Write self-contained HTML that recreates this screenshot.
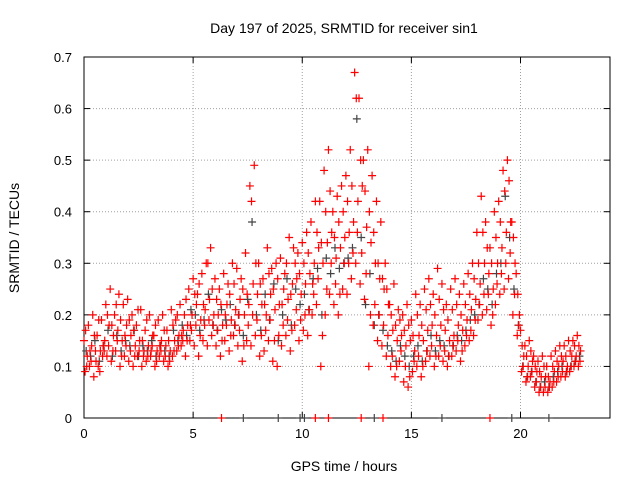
<!DOCTYPE html>
<html><head><meta charset="utf-8"><style>
body{margin:0;background:#fff}
svg{display:block;font-family:"Liberation Sans",sans-serif}
</style></head><body>
<svg id="chart" width="640" height="480" viewBox="0 0 640 480">
<rect width="640" height="480" fill="#fff"/>
<text x="344" y="33" font-size="14" text-anchor="middle">Day 197 of 2025, SRMTID for receiver sin1</text>
<text x="344" y="471" font-size="14" text-anchor="middle">GPS time / hours</text>
<text transform="translate(19,238) rotate(-90)" font-size="14" text-anchor="middle">SRMTID / TECUs</text>
<g id="grid"></g><g id="axes"></g><g id="marks"></g>
</svg>
<script>
const xTicks=[0,5,10,15,20];
const yTicks=[0,0.1,0.2,0.3,0.4,0.5,0.6,0.7];
const yTickLabels=["0","0.1","0.2","0.3","0.4","0.5","0.6","0.7"];
const timeStep=0.2;
const redA=[.15,.18,.2,.16,.19,.22,.25,.2,.24,.22,.23,.2,.18,.21,.17,.2,.16,.19,.2,.17,.21,.19,.22,.2,.25,.27,.24,.28,.3,.33,.27,.25,.28,.26,.3,.29,.27,.32,.45,.49,.3,.27,.33,.29,.3,.31,.28,.35,.33,.32,.34,.36,.38,.42,.42,.48,.52,.4,.43,.45,.47,.52,.67,.62,.5,.52,.47,.42,.38,.3,.22,.26,.21,.2,.22,.19,.24,.22,.25,.27,.24,.29,.26,.22,.25,.27,.24,.26,.28,.3,.36,.43,.38,.33,.4,.42,.48,.5,.38,.28,.17,.14,.15,.12,.11,.12,.1,.12,.13,.14,.14,.15,.15,.16];
const redB=[.12,.14,.11,.13,.15,.18,.16,.17,.15,.18,.16,.14,.15,.13,.14,.16,.13,.15,.14,.13,.15,.16,.17,.18,.2,.22,.19,.21,.23,.2,.2,.18,.22,.19,.21,.23,.2,.22,.26,.24,.22,.2,.24,.21,.22,.25,.23,.26,.27,.24,.26,.28,.3,.33,.3,.34,.36,.31,.33,.35,.36,.38,.42,.45,.37,.34,.3,.27,.25,.22,.17,.15,.16,.14,.15,.13,.16,.15,.17,.18,.16,.18,.17,.15,.16,.18,.17,.19,.21,.23,.26,.3,.28,.25,.3,.33,.36,.38,.3,.2,.12,.1,.11,.09,.08,.08,.07,.09,.1,.11,.1,.12,.12,.13];
const redC=[.09,.1,.08,.1,.12,.12,.11,.13,.1,.12,.11,.1,.12,.1,.11,.12,.1,.12,.11,.1,.12,.13,.14,.12,.15,.14,.12,.15,.14,.16,.14,.12,.15,.13,.16,.14,.11,.15,.14,.16,.12,.13,.15,.11,.1,.14,.16,.13,.18,.15,.17,.16,.2,.22,.1,.2,.24,.22,.2,.25,.24,.27,.3,.26,.23,.1,.18,.15,.14,.12,.1,.08,.11,.07,.06,.09,.1,.08,.11,.12,.1,.12,.11,.1,.12,.13,.11,.14,.15,.16,.19,.2,.21,.18,.22,.24,.25,.27,.2,.16,.09,.07,.08,.06,.05,.05,.05,.06,.07,.08,.08,.09,.1,.1];
const redD=[.17,.13,.16,.19,.14,.2,.18,.22,.19,.16,.19,.17,.21,.15,.19,.13,.18,.14,.17,.15,.18,.2,.16,.23,.18,.24,.26,.22,.3,.25,.23,.22,.2,.24,.26,.2,.25,.24,.42,.3,.26,.22,.28,.25,.27,.22,.3,.24,.3,.28,.3,.32,.26,.36,.34,.4,.44,.35,.38,.4,.42,.45,.62,.5,.44,.4,.36,.3,.27,.25,.2,.18,.19,.17,.18,.16,.2,.18,.21,.22,.2,.23,.21,.19,.21,.22,.2,.22,.24,.27,.3,.36,.33,.3,.35,.38,.44,.46,.35,.24,.14,.12,.13,.1,.09,.1,.08,.1,.11,.12,.12,.13,.14,.14];
const redE=[.1,.11,.13,.09,.13,.14,.13,.15,.12,.14,.13,.12,.13,.12,.12,.14,.11,.13,.12,.11,.13,.14,.15,.15,.17,.18,.16,.18,.19,.18,.17,.15,.18,.16,.18,.17,.14,.18,.2,.19,.16,.17,.19,.15,.16,.18,.19,.17,.21,.19,.2,.21,.24,.27,.16,.25,.3,.26,.24,.3,.3,.32,.36,.32,.28,.2,.22,.2,.18,.16,.12,.1,.13,.1,.08,.11,.12,.1,.13,.14,.12,.14,.13,.12,.14,.15,.13,.16,.17,.19,.22,.24,.24,.2,.26,.28,.3,.32,.24,.18,.1,.08,.09,.07,.06,.06,.06,.07,.08,.09,.09,.1,.11,.11];
const grayA=[.13,.12,.15,.11,.14,.17,.12,.16,.13,.15,.14,.17,.12,.14,.13,.15,.12,.14,.13,.12,.17,.15,.18,.16,.21,.2,.17,.19,.24,.18,.17,.21,.19,.22,.18,.2,.16,.23,.38,.2,.17,.24,.19,.26,.15,.2,.27,.18,.25,.22,.24,.21,.27,.29,.2,.31,.28,.33,.29,.3,.31,.33,.58,.35,.22,.28,.18,.2,.17,.14,.13,.11,.14,.12,.1,.12,.14,.11,.13,.16,.13,.15,.14,.12,.14,.16,.15,.17,.19,.2,.22,.27,.25,.22,.28,.3,.43,.35,.25,.18,.1,.08,.09,.07,.06,.07,.06,.08,.09,.1,.09,.1,.11,.12];
const zeroRedTimes=[6.3,10.6,11.2,12.7,13.7,18.6];
const zeroGrayTimes=[7.3,8.9,9.9,10.1,13.3,16.4,19.6,21.3];

const L=84,R=610,T=57,B=418,XMAX=24.1,YMAX=0.7;
const xs=v=>L+(R-L)*v/XMAX, ys=v=>B-(B-T)*v/YMAX;
const NS="http://www.w3.org/2000/svg";
function mk(tag,attrs,parent){const e=document.createElementNS(NS,tag);for(const k in attrs)e.setAttribute(k,attrs[k]);parent.appendChild(e);return e;}
const grid=document.getElementById('grid'),axes=document.getElementById('axes'),marks=document.getElementById('marks');
xTicks.forEach(t=>{const x=xs(t);
 if(t>0){const g=mk('line',{x1:x,x2:x,y1:T,y2:B,stroke:'#a0a0a0','stroke-dasharray':'1,2'},grid);
 }
 mk('line',{x1:x,x2:x,y1:B,y2:B-6,stroke:'#000'},axes);mk('line',{x1:x,x2:x,y1:T,y2:T+6,stroke:'#000'},axes);
 const lb=mk('text',{x:x,y:B+20,'font-size':13,'text-anchor':'middle'},axes);lb.textContent=t;
 });
yTicks.forEach((t,i)=>{const y=ys(t);
 if(t>0&&t<YMAX){const g=mk('line',{x1:L,x2:R,y1:y,y2:y,stroke:'#a0a0a0','stroke-dasharray':'1,2'},grid);
 }
 mk('line',{x1:L,x2:L+6,y1:y,y2:y,stroke:'#000'},axes);mk('line',{x1:R,x2:R-6,y1:y,y2:y,stroke:'#000'},axes);
 const lb=mk('text',{x:L-12,y:y+5,'font-size':13,'text-anchor':'end'},axes);lb.textContent=yTickLabels[i];
 });
const frame=mk('rect',{x:L,y:T,width:R-L,height:B-T,fill:'none',stroke:'#000'},axes);

function plus(t,v,col,name){const x=xs(t),y=ys(v);
 const p=mk('path',{d:`M${x-4},${y}h8M${x},${y-4}v8`,stroke:col,'stroke-width':1.2,fill:'none'},marks);
 }
grayA.forEach((v,i)=>plus(i*timeStep+0.1,v,'#444','point-gray'));
redC.forEach((v,i)=>plus(i*timeStep+0.05,v,'#f00','point-red'));
redE.forEach((v,i)=>plus(i*timeStep+0.125,v,'#f00','point-red'));
redB.forEach((v,i)=>plus(i*timeStep+0.15,v,'#f00','point-red'));
redD.forEach((v,i)=>plus(i*timeStep+0.075,v,'#f00','point-red'));
redA.forEach((v,i)=>plus(i*timeStep,v,'#f00','point-red'));
zeroGrayTimes.forEach(t=>plus(t,0,'#444','zero-point-gray'));
zeroRedTimes.forEach(t=>plus(t,0,'#f00','zero-point-red'));
</script>
</body></html>
